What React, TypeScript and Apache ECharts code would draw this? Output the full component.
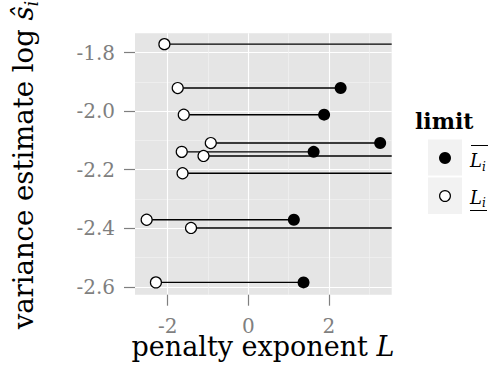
import React, { useEffect, useRef } from "react";
import * as echarts from "echarts";

// lower limit L_i (open circles), upper limit (filled), estimate log s_i
const lowerL = [-2.08, -1.75, -1.6, -0.93, -1.65, -1.11, -1.63, -2.52, -1.42, -2.29];
const upperL: (number | null)[] = [null, 2.29, 1.88, 3.27, 1.62, null, null, 1.13, null, 1.37];
const logS = [-1.771, -1.921, -2.012, -2.109, -2.139, -2.153, -2.212, -2.371, -2.399, -2.585];
const xTicks = [-2, 0, 2];
const yTicks = [-2.6, -2.4, -2.2, -2.0, -1.8];
const legendLabels = ["upper", "lower"];

const X_MIN = -2.809;
const X_MAX = 3.556;
const Y_MIN = -2.627;
const Y_MAX = -1.734;

const SERIF = "DejaVu Serif";

export default function App() {
  const ref = useRef<HTMLDivElement>(null);
  useEffect(() => {
    if (!ref.current) return;
    const chart = echarts.init(ref.current, null, { renderer: "svg" });

    const segData = lowerL.map((lo, i) => [lo, upperL[i] == null ? X_MAX : (upperL[i] as number), logS[i]]);
    const lowData = lowerL.map((lo, i) => [lo, logS[i]]);
    const upData = upperL
      .map((u, i) => (u == null ? null : [u, logS[i]]))
      .filter((d) => d != null);

    const option: any = {
      animation: false,
      backgroundColor: "#ffffff",
      grid: {
        left: 135,
        right: 103.3,
        top: 33.3,
        bottom: 74.3,
        show: true,
        backgroundColor: "#e5e5e5",
        borderWidth: 0,
      },
      xAxis: {
        type: "value",
        min: X_MIN,
        max: X_MAX,
        splitNumber: 3,
        axisLine: { show: false, onZero: false },
        axisTick: { show: true, length: 11, customValues: xTicks, lineStyle: { color: "#7f7f7f", width: 1.2 } },
        axisLabel: {
          customValues: xTicks,
          margin: 23,
          lineHeight: 16,
          color: "#7f7f7f",
          fontFamily: SERIF,
          fontSize: 20,
          formatter: (v: number) => String(Math.round(v)),
        },
        splitLine: { show: true, lineStyle: { color: "#ffffff", width: 1.1 } },
        minorTick: { show: false, splitNumber: 2 },
        minorSplitLine: { show: true, lineStyle: { color: "#f2f2f2", width: 0.7 } },
      },
      yAxis: {
        type: "value",
        min: Y_MIN,
        max: Y_MAX,
        splitNumber: 4,
        axisLine: { show: false, onZero: false },
        axisTick: { show: true, length: 11, customValues: yTicks, lineStyle: { color: "#7f7f7f", width: 1.2 } },
        axisLabel: {
          customValues: yTicks,
          margin: 20,
          color: "#7f7f7f",
          fontFamily: SERIF,
          fontSize: 20,
          formatter: (v: number) => v.toFixed(1),
        },
        splitLine: { show: true, lineStyle: { color: "#ffffff", width: 1.1 } },
        minorTick: { show: false, splitNumber: 2 },
        minorSplitLine: { show: true, lineStyle: { color: "#f2f2f2", width: 0.7 } },
      },
      series: [
        {
          type: "custom",
          name: "segments",
          clip: true,
          z: 2,
          encode: { x: [0, 1], y: 2 },
          data: segData,
          renderItem: (params: any, api: any) => {
            const p1 = api.coord([api.value(0), api.value(2)]);
            const p2 = api.coord([api.value(1), api.value(2)]);
            return {
              type: "line",
              shape: { x1: p1[0], y1: p1[1], x2: p2[0], y2: p2[1] },
              style: { stroke: "#000000", lineWidth: 1.4 },
            };
          },
        },
        {
          type: "scatter",
          name: legendLabels[1],
          z: 3,
          symbol: "circle",
          symbolSize: 11,
          itemStyle: { color: "#ffffff", borderColor: "#000000", borderWidth: 1.2, opacity: 1 },
          emphasis: { disabled: true },
          data: lowData,
        },
        {
          type: "scatter",
          name: legendLabels[0],
          z: 3,
          symbol: "circle",
          symbolSize: 12,
          itemStyle: { color: "#000000", opacity: 1 },
          emphasis: { disabled: true },
          data: upData,
        },
      ],
      graphic: [
        // y axis title
        {
          type: "text",
          x: 23,
          y: 165,
          rotation: Math.PI / 2,
          style: {
            text: "{a|variance estimate log }{b|ŝ}{c|i}",
            align: "center",
            verticalAlign: "middle",
            rich: {
              a: { fontFamily: SERIF, fontSize: 27.5, lineHeight: 34, color: "#000" },
              b: { fontFamily: SERIF, fontSize: 27.5, lineHeight: 34, fontStyle: "italic", color: "#000" },
              c: { fontFamily: SERIF, fontSize: 18, lineHeight: 18, fontStyle: "italic", verticalAlign: "bottom", color: "#000" },
            },
          },
        },
        // x axis title
        {
          type: "text",
          x: 263,
          y: 346,
          style: {
            text: "{a|penalty exponent }{b|L}",
            align: "center",
            verticalAlign: "middle",
            rich: {
              a: { fontFamily: SERIF, fontSize: 27, lineHeight: 22, color: "#000" },
              b: { fontFamily: SERIF, fontSize: 27, lineHeight: 22, fontStyle: "italic", color: "#000" },
            },
          },
        },
        // legend
        {
          type: "text",
          x: 415,
          y: 121,
          style: {
            text: "limit",
            fontFamily: SERIF,
            fontSize: 22,
            fontWeight: "bold",
            fill: "#000",
            align: "left",
            verticalAlign: "middle",
          },
        },
        { type: "rect", shape: { x: 428, y: 139.5, width: 34, height: 36 }, style: { fill: "#f2f2f2" } },
        { type: "rect", shape: { x: 428, y: 177.5, width: 34, height: 36.5 }, style: { fill: "#f2f2f2" } },
        { type: "circle", shape: { cx: 445, cy: 158, r: 6 }, style: { fill: "#000" } },
        { type: "circle", shape: { cx: 445, cy: 196, r: 5.4 }, style: { fill: "#fff", stroke: "#000", lineWidth: 1.2 } },
        {
          type: "text",
          x: 470,
          y: 160.5,
          style: {
            text: "{L|L}{s|i}",
            align: "left",
            verticalAlign: "middle",
            rich: {
              L: { fontFamily: SERIF, fontSize: 18, lineHeight: 24, fontStyle: "italic", color: "#000" },
              s: { fontFamily: SERIF, fontSize: 12, lineHeight: 12, fontStyle: "italic", verticalAlign: "bottom", color: "#000" },
            },
          },
        },
        { type: "line", shape: { x1: 471, y1: 145.5, x2: 488, y2: 145.5 }, style: { stroke: "#000", lineWidth: 1 } },
        {
          type: "text",
          x: 470,
          y: 197,
          style: {
            text: "{L|L}{s|i}",
            align: "left",
            verticalAlign: "middle",
            rich: {
              L: { fontFamily: SERIF, fontSize: 18, lineHeight: 24, fontStyle: "italic", color: "#000" },
              s: { fontFamily: SERIF, fontSize: 12, lineHeight: 12, fontStyle: "italic", verticalAlign: "bottom", color: "#000" },
            },
          },
        },
        { type: "line", shape: { x1: 470, y1: 210.5, x2: 487, y2: 210.5 }, style: { stroke: "#000", lineWidth: 1 } },
      ],
    };

    chart.setOption(option);
    return () => chart.dispose();
  }, []);

  return <div ref={ref} style={{ width: 495, height: 369, position: "absolute", left: 0, top: 0 }} />;
}
